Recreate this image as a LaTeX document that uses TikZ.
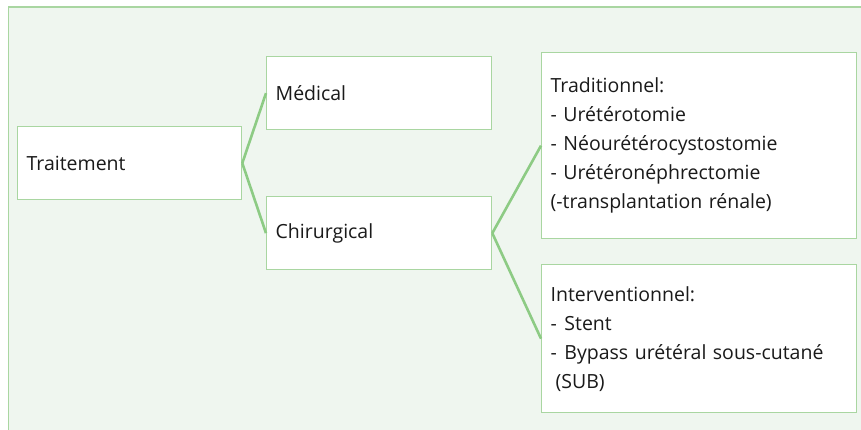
\documentclass[tikz,border=0pt]{standalone}
\usepackage{fontspec}
\setmainfont{Open Sans}
\definecolor{bgfill}{HTML}{EFF6EF}
\definecolor{boxline}{HTML}{A9D6A1}
\definecolor{conn}{HTML}{8DCB84}
\definecolor{txt}{HTML}{1A1A1A}
\tikzset{
  box/.style={draw=boxline, line width=1.3pt, fill=white, anchor=north west,
    inner xsep=9pt, inner ysep=4pt, align=left, text=txt,
    font=\fontsize{19.5}{29}\selectfont},
  link/.style={draw=conn, line width=2.6pt}
}
\begin{document}
\begin{tikzpicture}[x=1pt,y=1pt]
\clip (0,0) rectangle (861,-429);
\fill[bgfill] (8.5,-7) rectangle (880,-450);
\draw[boxline, line width=1.3pt] (8.5,-450) -- (8.5,-7) -- (880,-7);

\node[box, text width=206pt, minimum height=73pt] (trait) at (17,-126) {Traitement};
\node[box, text width=207pt, minimum height=73pt] (med) at (266,-56) {Médical};
\node[box, text width=207pt, minimum height=73pt] (chir) at (266,-196) {Chirurgical};
\node[box, text width=297pt, minimum height=186pt] (trad) at (541,-52)
  {Traditionnel:\\- Urétérotomie\\- Néourétérocystostomie\\- Urétéronéphrectomie\\(-transplantation rénale)};
\node[box, text width=297pt, minimum height=148pt] (interv) at (541,-264)
  {Interventionnel:\\-\kern1pt\ Stent\\-\kern1pt\ Bypass urétéral sous-cutané\\\hspace*{5pt}(SUB)};

\draw[link] (trait.east) -- (med.west);
\draw[link] (trait.east) -- (chir.west);
\draw[link] (chir.east) -- (trad.west);
\draw[link] (chir.east) -- (interv.west);
\end{tikzpicture}
\end{document}
